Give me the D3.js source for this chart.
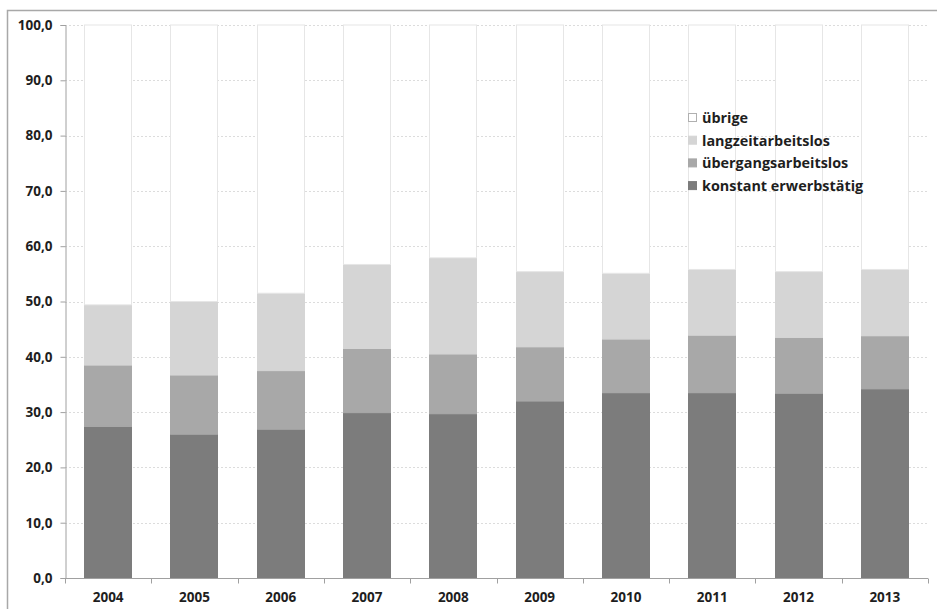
<!DOCTYPE html>
<html>
<head>
<meta charset="utf-8">
<script src="https://cdn.jsdelivr.net/npm/d3@7"></script>
<style>
  html, body { margin: 0; padding: 0; background: #fff; }
  svg { display: block; }
  text { font-family: "Open Sans", "Liberation Sans", sans-serif; font-weight: 700; fill: #1e1e1e; }
</style>
</head>
<body>
<svg id="chart" width="937" height="609"></svg>
<script>
// Shares of each group per year (percent), stacked bottom to top.
const years = ["2004", "2005", "2006", "2007", "2008", "2009", "2010", "2011", "2012", "2013"];
const konstant = [27.4, 26.0, 26.9, 29.9, 29.7, 32.0, 33.5, 33.5, 33.4, 34.2];
const uebergang = [11.1, 10.7, 10.6, 11.6, 10.8, 9.8, 9.7, 10.4, 10.1, 9.6];
const langzeit = [10.9, 13.3, 14.0, 15.2, 17.4, 13.6, 11.9, 11.9, 11.9, 12.0];
const seriesNames = ["konstant erwerbstätig", "übergangsarbeitslos", "langzeitarbeitslos", "übrige"];
const yTicks = [0, 10, 20, 30, 40, 50, 60, 70, 80, 90, 100];

// the remainder up to 100 percent
const uebrige = years.map((_, i) => 100 - konstant[i] - uebergang[i] - langzeit[i]);

const rows = years.map((yr, i) => ({
  year: yr,
  "konstant erwerbstätig": konstant[i],
  "übergangsarbeitslos": uebergang[i],
  "langzeitarbeitslos": langzeit[i],
  "übrige": uebrige[i]
}));

const fills = { "konstant erwerbstätig": "#7c7c7c", "übergangsarbeitslos": "#a8a8a8", "langzeitarbeitslos": "#d5d5d5", "übrige": "#ffffff" };
const strokes = { "konstant erwerbstätig": "#7c7c7c", "übergangsarbeitslos": "#a8a8a8", "langzeitarbeitslos": "#d5d5d5", "übrige": "#e6e6e6" };

const svg = d3.select("#chart");
const plotLeft = 65, plotRight = 928, plotTop = 25, plotBottom = 578;

// outer frame
svg.append("rect").attr("x", 7.5).attr("y", 10.5).attr("width", 940).attr("height", 610)
  .attr("fill", "none").attr("stroke", "#a8a8a8").attr("stroke-width", 1.5);

const x = d3.scaleBand().domain(years).range([plotLeft, plotRight]).paddingInner(0.444).paddingOuter(0.222);
const y = d3.scaleLinear().domain([0, 100]).range([plotBottom, plotTop]);

// horizontal gridlines
svg.append("g").selectAll("line").data(yTicks.filter(v => v > 0)).join("line")
  .attr("x1", plotLeft).attr("x2", plotRight)
  .attr("y1", d => Math.round(y(d)) + 0.5).attr("y2", d => Math.round(y(d)) + 0.5)
  .attr("stroke", "#dcdcdc").attr("stroke-dasharray", "2,2");

const stack = d3.stack().keys(seriesNames);
const layers = stack(rows);

svg.append("g").selectAll("g").data(layers).join("g")
  .attr("fill", d => fills[d.key]).attr("stroke", d => strokes[d.key])
  .selectAll("rect").data(d => d).join("rect")
  .attr("x", d => Math.round(x(d.data.year)) + 0.5)
  .attr("width", Math.round(x.bandwidth()) - 1)
  .attr("y", d => y(d[1]))
  .attr("height", d => y(d[0]) - y(d[1]));

// y axis
const yAxis = d3.axisLeft(y).tickValues(yTicks).tickSize(5).tickPadding(8)
  .tickFormat(d => d3.format(".1f")(d).replace(".", ","));
const gy = svg.append("g").attr("transform", `translate(${plotLeft + 0.5},0)`).call(yAxis);
gy.select(".domain").attr("stroke", "#a0a0a0");
gy.selectAll(".tick line").attr("stroke", "#a0a0a0");
gy.selectAll(".tick text").style("font-size", "13.5px").attr("fill", "#1e1e1e");

// x axis with ticks on band boundaries
const gx = svg.append("g").attr("transform", `translate(0,${plotBottom + 0.5})`);
gx.append("line").attr("x1", plotLeft).attr("x2", plotRight).attr("stroke", "#a0a0a0");
const step = (plotRight - plotLeft) / years.length;
gx.selectAll("line.tk").data(d3.range(years.length + 1)).join("line").attr("class", "tk")
  .attr("x1", i => Math.round(plotLeft + i * step) + 0.5).attr("x2", i => Math.round(plotLeft + i * step) + 0.5)
  .attr("y1", 0).attr("y2", 5).attr("stroke", "#a0a0a0");
gx.selectAll("text").data(years).join("text")
  .attr("x", d => x(d) + x.bandwidth() / 2).attr("y", 23)
  .attr("text-anchor", "middle").style("font-size", "13.5px").text(d => d);

// legend
const legendOrder = ["übrige", "langzeitarbeitslos", "übergangsarbeitslos", "konstant erwerbstätig"];
const lg = svg.append("g").attr("transform", "translate(688,118)");
const items = lg.selectAll("g").data(legendOrder).join("g")
  .attr("transform", (d, i) => `translate(0,${i * 22.7})`);
items.append("rect").attr("x", 0.5).attr("y", -4.5).attr("width", 8).attr("height", 8)
  .attr("fill", d => fills[d]).attr("stroke", d => d === "übrige" ? "#b0b0b0" : fills[d]);
items.append("text").attr("x", 14).attr("y", 0).attr("dy", "0.35em")
  .style("font-size", "14.4px").text(d => d);
</script>
</body>
</html>
